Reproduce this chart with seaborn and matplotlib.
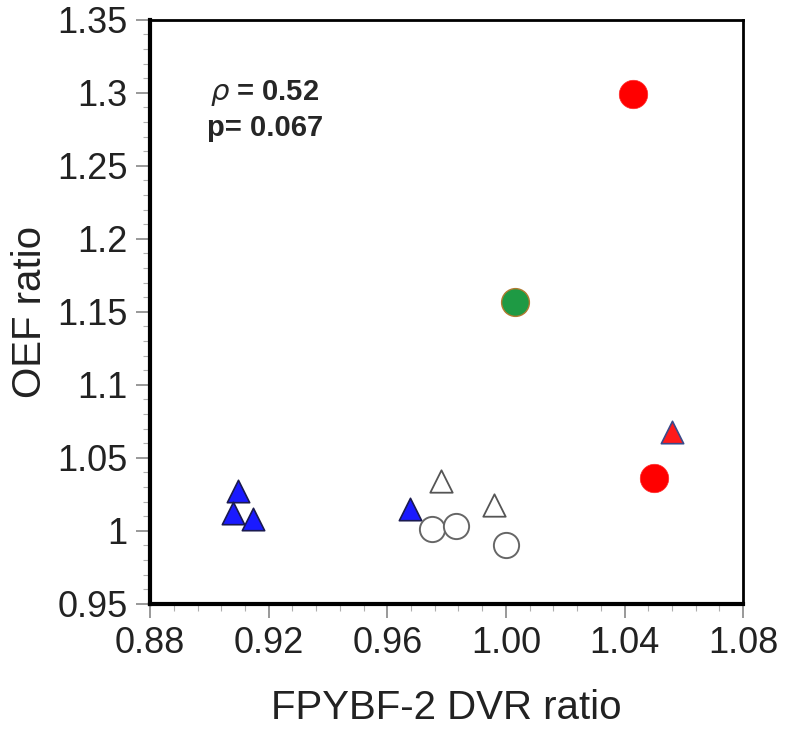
import numpy as np
import pandas as pd
import seaborn as sns
import matplotlib.pyplot as plt
from matplotlib.ticker import MultipleLocator, FixedLocator

# Datos
grupo = ["rojo_c", "rojo_c", "verde_c", "rojo_t",
         "azul_t", "azul_t", "azul_t", "azul_t",
         "blanco_t", "blanco_t",
         "blanco_c", "blanco_c", "blanco_c"]
dvr = [1.043, 1.050, 1.003, 1.056,
       0.9097, 0.908, 0.9147, 0.9677,
       0.978, 0.996,
       0.975, 0.983, 1.000]
oef = [1.299, 1.036, 1.157, 1.068,
       1.027, 1.012, 1.008, 1.015,
       1.034, 1.018,
       1.001, 1.003, 0.990]

xticks = [0.88, 0.92, 0.96, 1.00, 1.04, 1.08]
yticks = [0.95, 1.0, 1.05, 1.1, 1.15, 1.2, 1.25, 1.3, 1.35]
ytick_labels = ["0.95", "1", "1.05", "1.1", "1.15", "1.2", "1.25", "1.3", "1.35"]

# Estilo de cada grupo
estilos = {
    "rojo_c":   dict(marker="o", s=420, color="#ff0000", edgecolor="#ff2a2a", linewidth=0.5),
    "verde_c":  dict(marker="o", s=400, color="#1e9a44", edgecolor="#b07a30", linewidth=1),
    "rojo_t":   dict(marker="^", s=260, color="#ff1a1a", edgecolor="#3a4a8a", linewidth=1.2),
    "azul_t":   dict(marker="^", s=260, color="#1a1aff", edgecolor="#1a1a50", linewidth=1.2),
    "blanco_t": dict(marker="^", s=260, color="white", edgecolor="#555555", linewidth=1.3),
    "blanco_c": dict(marker="o", s=330, color="white", edgecolor="#666666", linewidth=1.4),
}

df = pd.DataFrame({"grupo": grupo, "DVR": dvr, "OEF": oef})

sns.set_style("white")
plt.rcParams["font.family"] = ["Liberation Sans", "DejaVu Sans"]

fig = plt.figure(figsize=(7.94, 7.31), dpi=100)
ax = fig.add_axes([0.189, 0.174, 0.747, 0.799])

for g, sub in df.groupby("grupo", sort=False):
    sns.scatterplot(data=sub, x="DVR", y="OEF", ax=ax, legend=False, zorder=3, **estilos[g])

ax.set_xlim(0.88, 1.08)
ax.set_ylim(0.95, 1.35)
ax.xaxis.set_major_locator(FixedLocator(xticks))
ax.set_xticklabels([f"{t:.2f}" for t in xticks])
ax.yaxis.set_major_locator(FixedLocator(yticks))
ax.set_yticklabels(ytick_labels)
ax.xaxis.set_minor_locator(MultipleLocator(0.008))
ax.yaxis.set_minor_locator(MultipleLocator(0.01))

ax.tick_params(which="major", direction="out", length=10, width=1.2, color="#888888",
               labelsize=26, labelcolor="#222222", pad=6, bottom=True, left=True)
ax.tick_params(which="minor", direction="out", length=5, width=0.8, color="#b0b0b0",
               bottom=True, left=True)

for lado in ["left", "bottom"]:
    ax.spines[lado].set_linewidth(3)
    ax.spines[lado].set_color("black")
for lado in ["top", "right"]:
    ax.spines[lado].set_linewidth(2)
    ax.spines[lado].set_color("black")

ax.set_xlabel("FPYBF-2 DVR ratio", fontsize=29, labelpad=20, color="#222222")
ax.set_ylabel("OEF ratio", fontsize=29, labelpad=6, color="#222222")

ax.text(0.101, 0.875, r"$\rho$ = 0.52", transform=ax.transAxes, fontsize=21,
        fontweight="bold", va="center", ha="left")
ax.text(0.096, 0.815, "p= 0.067", transform=ax.transAxes, fontsize=21,
        fontweight="bold", va="center", ha="left")

fig.savefig("out.png", dpi=100)
